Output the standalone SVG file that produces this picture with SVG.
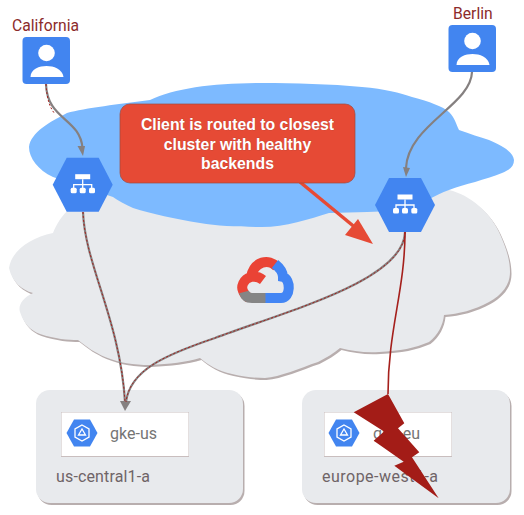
<svg xmlns="http://www.w3.org/2000/svg" width="524" height="515" viewBox="0 0 524 515">
<style>
text{font-family:Roboto,"Liberation Sans",Arial,sans-serif}
.place{font-size:15.700px;fill:#8c2b2b}
.inst{font-size:16px;fill:#757575}
.zone{font-size:16px;fill:#6f6467}
.call{font-family:"Liberation Sans",Arial,sans-serif;font-size:15.800px;font-weight:700;fill:#fff;text-anchor:middle;stroke:#a8443a;stroke-width:.4px;paint-order:stroke}
.blue{fill:#4285f0}
.wht{fill:#fff}
.wire{fill:none;stroke:#858080;stroke-width:2.200}
.red{fill:none;stroke:#a5201c;stroke-width:1;stroke-dasharray:2 2}
.tip{fill:#858080}
.zb{fill:#e8eaed}
.zs{fill:#b8aeae}
.lic{fill:none;stroke:#fff;stroke-width:1.300}
.lg{fill:none;stroke-width:10}
</style>
<defs>
<path id="gc" d="M53 233C30 238 12 250 9 268C12 282 22 290 33 293C22 298 18 306 20 312C24 324 30 330 40 334C55 339 68 340 78 340C88 348 94 352 105 357C120 363 133 365 150 365C170 364 186 362 200 358C208 365 218 371 232 374C245 377 255 378 265 378C280 377 300 368 318 362C326 358 334 353 340 348C352 351 365 353 379 352C400 351 415 348 429 342C438 335 443 325 444 315C458 314 475 310 489 302C502 295 510 285 510 272C510 258 505 245 499 232C490 212 470 195 449 190L200 180L100 190C75 200 60 215 53 233Z"/>
<g id="user">
<rect width="47.500" height="47" rx="4" class="blue"/>
<circle cx="24" cy="16" r="8.300" class="wht"/>
<path d="M8 40C8 32 17 29 24 29C31 29 40 32 41 40Z" class="wht"/>
</g>
<g id="lb">
<path d="M-30 0L-16 -27H16L30 0L16 27H-16Z" class="blue"/>
<rect x="-7.500" y="-10.500" width="15" height="5" class="wht"/>
<path d="M0 -5.500V0M-9 4V0H9V4M0 0V4" class="lic"/>
<rect x="-12" y="3" width="6" height="5.500" rx="1.500" class="wht"/>
<rect x="-3" y="3" width="6" height="5.500" rx="1.500" class="wht"/>
<rect x="6.300" y="3" width="6" height="5.500" rx="1.500" class="wht"/>
</g>
<g id="gke">
<path d="M-15.500 0L-8 -13.500H8L15.500 0L8 13.500H-8Z" class="blue"/>
<path d="M0 -8L7 -4V4L0 8L-7 4V-4Z" class="lic"/>
<path d="M0 -4L3.500 2H-3.500Z" class="lic"/>
</g>
</defs>

<g id="google-cloud">
<use href="#gc" class="zs" transform="translate(1.500 2)"/>
<use href="#gc" fill="#e8eaed"/>
</g>
<path id="region-cloud" fill="#7dbaff" d="M29 147C31 132 50 122 67 113C85 108 120 104 150 100C175 88 215 83 262 83C295 83 330 84 362 87C385 89 400 93 412 97C430 102 442 106 449 112C455 118 456 124 459 130C470 134 480 137 489 140C503 146 513 152 514 160C514 166 510 170 502 173C485 180 465 184 449 190C435 195 420 205 405 210C380 212 355 212 329 213C310 219 285 227 262 227C240 227 218 226 200 223C175 219 152 214 133 208C125 204 118 201 113 197L53 177C38 170 29 158 29 147Z"/>

<g id="logo">
<path class="lg" stroke="#ea4335" d="M277 267C269 258 254 261 251 277C243 279 241 287 243 291C244 294 246 296 249 298M251 277C255 276 259 277 263 280"/>
<path class="lg" stroke="#4285f4" d="M275 264C280 268 283 272 283 277C291 279 291 298 281 298H265"/>
<path class="lg" stroke="#858585" d="M265.500 298H252C248 298 245 296 244 292"/>
</g>

<g id="zone-us">
<rect x="37.500" y="392" width="207" height="113" rx="14" class="zs"/>
<rect x="36" y="390" width="207" height="113" rx="14" class="zb"/>
<rect x="61" y="412" width="128" height="45" fill="#c9bebe"/>
<rect x="61.500" y="412.500" width="127" height="43.500" fill="#fff"/>
<use href="#gke" x="82" y="433"/>
<text x="110" y="439" class="inst" textLength="47">gke-us</text>
<text x="56" y="482" class="zone" textLength="94">us-central1-a</text>
</g>
<g id="zone-eu">
<rect x="303.500" y="392" width="208" height="113" rx="14" class="zs"/>
<rect x="302" y="390" width="208" height="113" rx="14" class="zb"/>
<rect x="324" y="412" width="128" height="45" fill="#c9bebe"/>
<rect x="324.500" y="412.500" width="127" height="43.500" fill="#fff"/>
<use href="#gke" x="344" y="433"/>
<text x="373" y="439" class="inst" textLength="47">gke-eu</text>
<text x="322" y="482" class="zone" textLength="116">europe-west1-a</text>
</g>

<g id="connectors">
<path class="wire" d="M46 84C47 120 80 118 82.500 148"/>
<path class="tip" d="M77.500 146L85 146L83 156Z"/>
<path class="wire" d="M472 72C471 105 408 125 406 168"/>
<path class="tip" d="M403 167L410 168L406 177Z"/>
<path class="wire" d="M83 212C85 265 120 320 125 402"/>
<path class="wire" d="M405 232C404 280 290 310 215 338C165 355 130 370 126 402"/>
<path class="tip" d="M120 401L131 401L125 411Z"/>
<path class="red" d="M46 84C47 100 50 108 55 114M83 212C85 265 120 320 125 402"/>
<path class="red" d="M405 232C404 280 290 310 215 338C165 355 130 370 126 402"/>
<path fill="none" stroke="#a5201c" stroke-width="1.600" d="M405 232C405 290 388 330 388 394"/>
</g>

<path id="bolt" fill="#a31c17" d="M388 394L404.300 423.300L398 428.300L419.300 452.300L412 457.300L438.700 498.300L394.300 465.700L403.700 461.700L373.700 440.700L384 431.500L353.700 412.300Z"/>

<g id="callout">
<path d="M300 182L357 229" stroke="#e64a35" stroke-width="3.500" fill="none"/>
<path d="M373 244L345 235L358 219Z" fill="#e64a35"/>
<rect x="120" y="104" width="235" height="79" rx="10" fill="#e64a35" stroke="#9c4a40" stroke-width="0.700"/>
<text x="237.500" y="130" class="call">Client is routed to closest</text>
<text x="237.500" y="150" class="call">cluster with healthy</text>
<text x="237.500" y="169" class="call">backends</text>
</g>

<g id="lb-us"><use href="#lb" x="82.700" y="184.700"/></g>
<g id="lb-eu"><use href="#lb" x="405" y="205"/></g>
<g id="client-ca">
<text x="12" y="31" class="place">California</text>
<use href="#user" x="22.500" y="37"/>
</g>
<g id="client-be">
<text x="453" y="19" class="place">Berlin</text>
<use href="#user" x="448.500" y="25"/>
</g>
</svg>
